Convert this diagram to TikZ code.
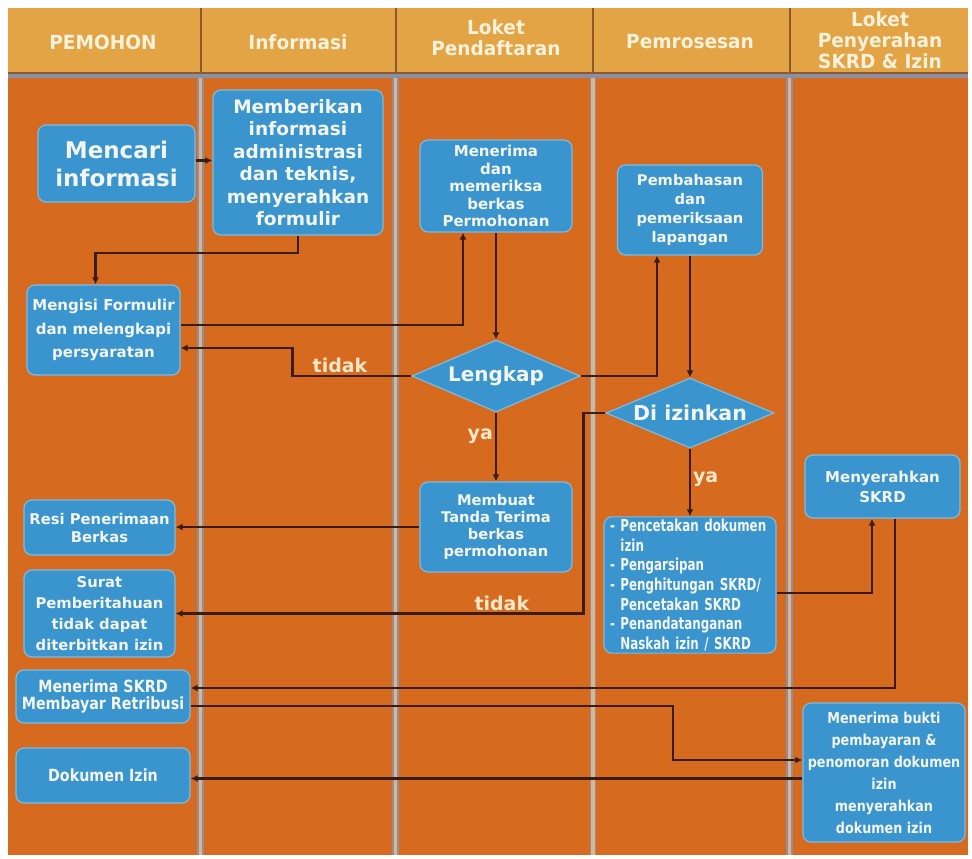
\documentclass[tikz,border=0pt]{standalone}
\usepackage{fontspec}
\setmainfont{DejaVu Sans}
\newfontfamily\headfont{DejaVu Sans}[FakeStretch=0.95]
\newfontfamily\semifont{DejaVu Sans}[FakeStretch=0.85]
\newfontfamily\condfont{DejaVu Sans}[FakeStretch=0.72]
\usetikzlibrary{shapes.geometric,arrows.meta}

\definecolor{lanebg}{HTML}{D66A1F}
\definecolor{headbg}{HTML}{E2A445}
\definecolor{headtext}{HTML}{FCF1DA}
\definecolor{divider}{HTML}{8A8FA3}
\definecolor{divlight}{HTML}{DDB58A}
\definecolor{headdiv}{HTML}{8C5A2C}
\definecolor{boxblue}{HTML}{3A95CF}
\definecolor{boxline}{HTML}{7DBBE2}
\definecolor{boxtext}{HTML}{F3F5F1}
\definecolor{flowline}{HTML}{3A1C10}
\definecolor{lbltext}{HTML}{FCE8C8}

\tikzset{
    box/.style={draw=boxline, fill=boxblue, rounded corners=8pt, line width=1.2pt,
        text=boxtext, align=center, inner sep=2pt},
    decision/.style={diamond, aspect=2.4, draw=boxline, fill=boxblue, line width=1.2pt,
        text=boxtext, inner sep=0pt},
    flow/.style={draw=flowline, line width=2.2pt, -{Latex[length=7pt,width=7pt]}},
    lbl/.style={text=lbltext, font=\bfseries\fontsize{19}{19}\selectfont, inner sep=2pt},
    headlbl/.style={text=headtext, align=center, inner sep=0pt,
        font=\headfont\bfseries\fontsize{19.5}{21}\selectfont},
}

\begin{document}
\begin{tikzpicture}[x=1pt, y=-1pt]
    \useasboundingbox (0,0) rectangle (972,859);
    \fill[white] (0,0) rectangle (972,859);

    % Jalur
    \fill[lanebg] (8,75) rectangle (968,855);
    \fill[headbg] (8,8) rectangle (968,72);
    \fill[headdiv] (8,72) rectangle (968,74);
    \fill[divider] (8,74) rectangle (968,78);
    \foreach \x in {200.5, 395.5, 593, 789.5} {
        \fill[divlight] (\x-2.5,78) rectangle (\x+2.5,855);
        \draw[divider, line width=1.5pt] (\x-2.5,78) -- (\x-2.5,855);
        \draw[divider, line width=1.5pt] (\x+2.5,78) -- (\x+2.5,855);
        \draw[headdiv, line width=2pt] (\x,8) -- (\x,72);
    }

    % Judul kolom
    \node[headlbl] (hpemohon) at (103,42) {PEMOHON};
    \node[headlbl] (hinfo) at (298,42) {Informasi};
    \node[headlbl] (hdaftar) at (496,38) {Loket\\Pendaftaran};
    \node[headlbl] (hproses) at (690,42) {Pemrosesan};
    \node[headlbl] (hserah) at (880,40) {Loket\\Penyerahan\\SKRD \& Izin};

    % Kotak proses
    \node[box, minimum width=157, minimum height=77, font=\bfseries\fontsize{23}{28}\selectfont]
        (cari) at (116.5,163.5) {Mencari\\informasi};
    \node[box, minimum width=170, minimum height=145, font=\bfseries\fontsize{18.5}{22.5}\selectfont]
        (beri) at (298,162.5) {Memberikan\\informasi\\administrasi\\dan teknis,\\menyerahkan\\formulir};
    \node[box, minimum width=153, minimum height=90, font=\bfseries\fontsize{15}{23.5}\selectfont]
        (isi) at (103.5,330) {Mengisi Formulir\\dan melengkapi\\persyaratan};
    \node[box, minimum width=152, minimum height=92, font=\bfseries\fontsize{15}{17.5}\selectfont]
        (terima) at (496,186) {Menerima\\dan\\memeriksa\\berkas\\Permohonan};
    \node[decision, minimum width=168, minimum height=72, font=\bfseries\fontsize{20}{20}\selectfont]
        (lengkap) at (496,376) {Lengkap};
    \node[box, minimum width=145, minimum height=90, font=\bfseries\fontsize{14.7}{19}\selectfont]
        (bahas) at (690,210) {Pembahasan\\dan\\pemeriksaan\\lapangan};
    \node[decision, minimum width=168, minimum height=70, font=\bfseries\fontsize{20.5}{20.5}\selectfont]
        (izin) at (690,413) {Di izinkan};
    \node[box, minimum width=152, minimum height=90, font=\bfseries\fontsize{14.7}{17}\selectfont]
        (buat) at (496,527) {Membuat\\Tanda Terima\\berkas\\permohonan};
    \node[box, minimum width=172, minimum height=134, align=left, text width=160,
        font=\condfont\bfseries\fontsize{16.5}{19.7}\selectfont]
        (cetak) at (690,585) {- Pencetakan dokumen\\\hphantom{- }izin\\- Pengarsipan\\- Penghitungan SKRD/\\\hphantom{- }Pencetakan SKRD\\- Penandatanganan\\\hphantom{- }Naskah izin / SKRD};
    \node[box, minimum width=155, minimum height=63, font=\bfseries\fontsize{15}{20}\selectfont]
        (serah) at (882.5,486.5) {Menyerahkan\\SKRD};
    \node[box, minimum width=151, minimum height=55, font=\bfseries\fontsize{14.8}{18}\selectfont]
        (resi) at (99.5,527.5) {Resi Penerimaan\\Berkas};
    \node[box, minimum width=151, minimum height=87, font=\bfseries\fontsize{14.8}{21}\selectfont]
        (surat) at (99.5,613.5) {Surat\\Pemberitahuan\\tidak dapat\\diterbitkan izin};
    \node[box, minimum width=174, minimum height=53, font=\semifont\bfseries\fontsize{16.8}{17}\selectfont]
        (bayar) at (103,696.5) {Menerima SKRD\\Membayar Retribusi};
    \node[box, minimum width=174, minimum height=55, font=\semifont\bfseries\fontsize{16.8}{17}\selectfont]
        (dok) at (103,775.5) {Dokumen Izin};
    \node[box, minimum width=162, minimum height=139, font=\semifont\bfseries\fontsize{15}{22}\selectfont]
        (bukti) at (884,772.5) {Menerima bukti\\pembayaran \&\\penomoran dokumen\\izin\\menyerahkan\\dokumen izin};

    % Alur
    \draw[flow] ([yshift=3pt]cari.east) -- ([yshift=3pt]cari.east -| beri.west);
    \draw[flow] (beri.south) -- ++(0,17) -| ([xshift=-8pt]isi.north);
    \draw[flow] ([yshift=5pt]isi.east) -| ([xshift=-33pt]terima.south);
    \draw[flow] (terima.south) -- (lengkap.north);
    \draw[flow] (lengkap.west) -- node[lbl, above, pos=0.6] {tidak} ++(-119,0) |- ([yshift=-18pt]isi.east);
    \draw[flow] (lengkap.east) -| ([xshift=-33pt]bahas.south);
    \draw[flow] (bahas.south) -- (izin.north);
    \draw[flow] (lengkap.south) -- node[lbl, left, pos=0.35] {ya} (buat.north);
    \draw[flow] (izin.south) -- node[lbl, right, pos=0.45] {ya} (cetak.north);
    \draw[flow] (buat.west) -- (buat.west -| resi.east);
    \draw[flow] (izin.west) -- ++(-22,0) |- node[lbl, above, pos=0.6] {tidak} (surat.east);
    \draw[flow] ([yshift=-8pt]cetak.east) -| ([xshift=-10.5pt]serah.south);
    \draw[flow] ([xshift=12.5pt]serah.south) |- ([yshift=8.5pt]bayar.east);
    \draw[flow] ([yshift=-9.5pt]bayar.east) -- ++(482,0) |- ([yshift=12.5pt]bukti.west);
    \draw[flow] ([yshift=-6pt]bukti.west) -- ([yshift=-6pt]bukti.west -| dok.east);
\end{tikzpicture}
\end{document}
